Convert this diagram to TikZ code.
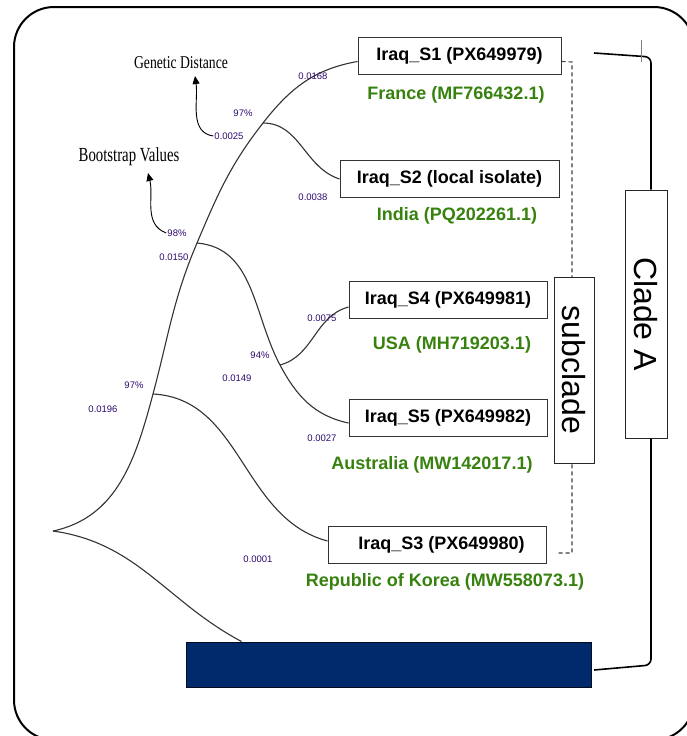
\documentclass[tikz,border=0pt]{standalone}
\usepackage{fontspec}
\setmainfont{Liberation Sans}
\newfontfamily\serifface{Liberation Serif}
\usetikzlibrary{arrows.meta,positioning}

\definecolor{leafgreen}{RGB}{55,130,15}
\definecolor{distcol}{RGB}{45,10,110}
\definecolor{barblue}{RGB}{0,42,108}

\tikzset{
  isolate/.style={draw=black!80, line width=1pt, fill=white, minimum height=37pt, inner sep=2pt,
    font=\fontsize{18}{18}\selectfont\bfseries},
  refseq/.style={text=leafgreen, inner sep=1pt, font=\fontsize{18}{18}\selectfont\bfseries},
  distlabel/.style={text=distcol, inner sep=1pt, font=\fontsize{9.5}{9.5}\selectfont},
  branch/.style={line width=1.1pt, draw=black!80},
  cladebox/.style={draw=black!85, line width=1pt, fill=white, inner sep=0pt, rotate=-90,
    font=\fontsize{32}{32}\selectfont},
  keynote/.style={inner sep=1pt, font=\serifface},
  bracket/.style={line width=1.6pt, rounded corners=6pt},
}

\begin{document}
\begin{tikzpicture}[x=1pt,y=1pt]

\useasboundingbox[fill=white] (0,0) rectangle (687,-736);

% outer frame
\draw[line width=2pt, rounded corners=40pt] (14,-7) rectangle (694,-740);

% sequence boxes
\node[isolate, minimum width=203pt] (s1) at (459.5,-55.5) {Iraq\_S1 (PX649979)};
\node[isolate, minimum width=219pt] (s2) at (449.5,-179) {Iraq\_S2 (local isolate)};
\node[isolate, minimum width=198pt] (s4) at (448,-299.5) {Iraq\_S4 (PX649981)};
\node[isolate, minimum width=198pt] (s5) at (448,-418) {Iraq\_S5 (PX649982)};
\node[isolate, minimum width=218pt] (s3) at (437,-544.5) {\hspace*{9pt}Iraq\_S3 (PX649980)};

% reference strains
\node[refseq] (fr) at (456,-95) {France (MF766432.1)};
\node[refseq] (ind) at (457,-216) {India (PQ202261.1)};
\node[refseq] (usa) at (452,-345) {USA (MH719203.1)};
\node[refseq] (aus) at (432,-465) {Australia (MW142017.1)};
\node[refseq] (kor) at (445,-582) {Republic of Korea (MW558073.1)};

% outgroup bar
\node[draw=black!70!barblue, line width=1pt, fill=barblue, minimum width=405pt, minimum height=45pt,
  inner sep=0pt] (bar) at (388.5,-664.5) {};

% tree nodes
\coordinate (root) at (53,-531);
\coordinate (n1) at (153,-394);
\coordinate (n2) at (197,-243);
\coordinate (n3) at (263,-123);
\coordinate (n4) at (280,-365);

% branches
\draw[branch] (root) to[out=12,in=255] (n1);
\draw[branch] (n1) to[out=75,in=247] (n2);
\draw[branch] (n2) to[out=67,in=232] (n3);
\draw[branch] (n3) to[out=52,in=190] ([yshift=-6pt]s1.west);
\draw[branch] (n3) to[out=0,in=162] (s2.west);
\draw[branch] (n2) to[out=-5,in=118] (n4);
\draw[branch] (n4) to[out=-62,in=168] ([yshift=-5pt]s5.west);
\draw[branch] (n4) to[out=15,in=195] ([yshift=-7.5pt]s4.west);
\draw[branch] (n1) to[out=-3,in=165] ([yshift=3.5pt]s3.west);
\draw[branch] (root) to[out=-8,in=152] ([xshift=56pt]bar.north west);

% branch lengths and bootstrap values
\node[distlabel] (d0168) at (313,-76) {0.0168};
\node[distlabel] (b97a) at (243,-113) {97\%};
\node[distlabel] (d0025) at (229,-136) {0.0025};
\node[distlabel] (d0038) at (313,-197) {0.0038};
\node[distlabel] (b98) at (177,-233) {98\%};
\node[distlabel] (d0150) at (174,-257) {0.0150};
\node[distlabel] (d0075) at (322,-318) {0.0075};
\node[distlabel] (b94) at (260,-355) {94\%};
\node[distlabel] (d0149) at (237,-378) {0.0149};
\node[distlabel] (b97b) at (134,-385) {97\%};
\node[distlabel] (d0196) at (103,-409) {0.0196};
\node[distlabel] (d0027) at (322,-438) {0.0027};
\node[distlabel] (d0001) at (258,-559) {0.0001};

% key notes
\node[keynote, font=\serifface\fontsize{18}{18}\selectfont] (gd) at (181,-63) {\scalebox{0.76}[1]{Genetic Distance}};
\node[keynote, font=\serifface\fontsize{20}{20}\selectfont] (bv) at (129,-157) {\scalebox{0.74}[1]{Bootstrap Values}};
\coordinate (gdtip) at (195,-76);
\coordinate (bvtip) at (148,-173);
\draw[line width=0.9pt, -{Triangle[width=7pt,length=8pt]}] (d0025.west) to[out=172,in=-82] (gdtip);
\draw[line width=0.9pt, -{Triangle[width=7pt,length=8pt]}] (b98.west) to[out=160,in=-76] (bvtip);

% subclade grouping
\coordinate (dtop) at (572,-62);
\coordinate (dbot) at (572,-553);
\coordinate (dend) at (557,-553);
\draw[black!75, line width=1.1pt, dash pattern=on 4pt off 3pt] ([yshift=-6pt]s1.east) -- (dtop) -- (dbot) -- (dend);
\node[cladebox, minimum width=186pt, minimum height=40pt] (sub) at (574,-370) {subclade};

% clade A bracket
\node[cladebox, minimum width=248pt, minimum height=42pt] (cladeA) at (646,-314) {Clade A};
\coordinate (bktop) at (594,-53);
\coordinate (bkbot) at (594,-670);
\draw[bracket] (bktop) -- (651,-57) -- ([xshift=5pt]cladeA.west);
\draw[bracket] ([xshift=5pt]cladeA.east) -- (651,-665) -- (bkbot);
\draw[black!50, line width=0.6pt] (641,-40) -- (641,-62);

\end{tikzpicture}
\end{document}
